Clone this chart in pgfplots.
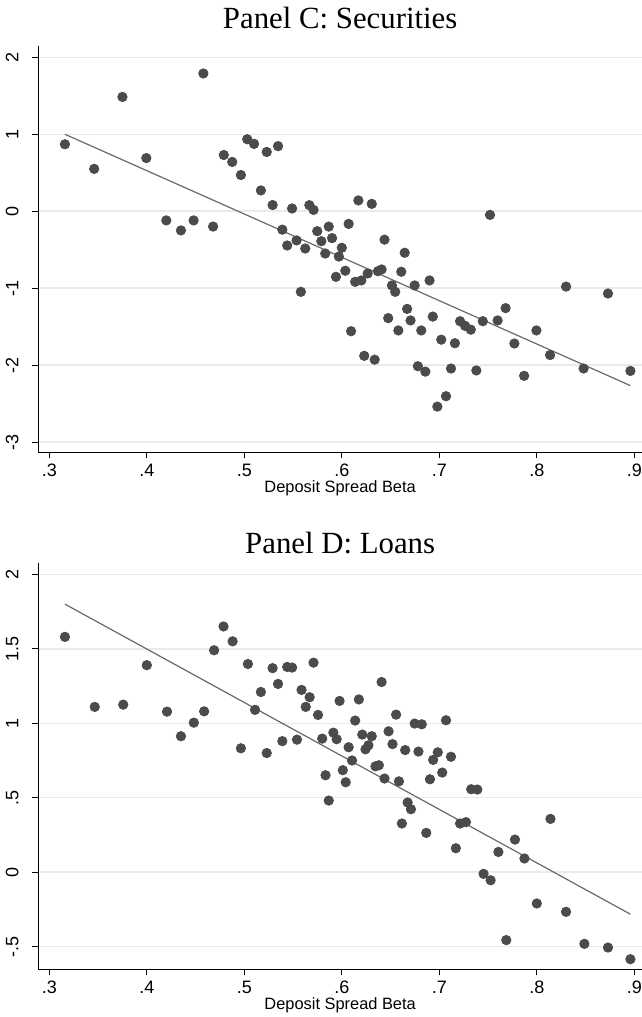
\documentclass[border=0pt]{standalone}
\usepackage{fontspec}
\setmainfont{Liberation Sans}
\newfontfamily\titlefont{Liberation Serif}
\usepackage{pgfplots}
\pgfplotsset{compat=1.18}
\definecolor{markgray}{RGB}{75,75,75}
\definecolor{linegray}{RGB}{105,105,105}
\definecolor{gridgray}{RGB}{234,234,234}
\pgfplotsset{
  stataax/.style={
    scale only axis,
    width=301.85pt,
    xmin=0.2887, xmax=0.9079,
    axis x line*=bottom, axis y line*=left,
    axis line style={-, black, line width=0.5pt},
    tick align=outside,
    major tick length=3pt,
    tick style={black, line width=0.5pt},
    xtick={0.3,0.4,0.5,0.6,0.7,0.8,0.9},
    xticklabels={.3,.4,.5,.6,.7,.8,.9},
    xticklabel style={font=\fontsize{9}{10}\selectfont, anchor=base, yshift=-9.3pt},
    yticklabel style={font=\fontsize{9}{10}\selectfont, xshift=-7pt, rotate=90, anchor=base},
    ymajorgrids,
    major grid style={gridgray, line width=0.75pt},
    xlabel={Deposit Spread Beta},
    xlabel style={font=\fontsize{8.2}{9}\selectfont, at={(0.5,0)}, anchor=base, yshift=-20.2pt},
    title style={font=\titlefont\fontsize{15.4}{18}\selectfont, at={(0.5,1)}, anchor=base},
  },
  dots/.style={only marks, mark=*, mark size=2.35pt, color=markgray, mark options={fill=markgray, draw=markgray}},
  fitline/.style={no marks, linegray, line width=0.6pt},
}
\begin{document}
\begin{tikzpicture}
\path[use as bounding box] (0,0) rectangle (321pt,-508.5pt);
% Panel C
\begin{axis}[stataax,
  at={(19.15pt,-23pt)}, anchor=north west,
  height=203.15pt,
  ymin=-3.134, ymax=2.147,
  ytick={-3,-2,-1,0,1,2},
  yticklabels={-3,-2,-1,0,1,2},
  title={Panel C: Securities},
  title style={yshift=2.85pt},
]
\addplot[dots] coordinates {
(0.316,0.87) (0.346,0.55) (0.375,1.485) (0.3995,0.69) (0.420,-0.12) (0.435,-0.25)
(0.448,-0.12) (0.458,1.79) (0.468,-0.20) (0.479,0.73) (0.4876,0.64) (0.4965,0.47)
(0.503,0.935) (0.510,0.875) (0.517,0.27) (0.523,0.77) (0.529,0.08) (0.5346,0.845)
(0.539,-0.24) (0.544,-0.446) (0.549,0.035) (0.5536,-0.38) (0.558,-1.048) (0.5625,-0.485)
(0.5667,0.078) (0.571,0.017) (0.5748,-0.26) (0.579,-0.39) (0.583,-0.55) (0.5866,-0.20)
(0.590,-0.35) (0.594,-0.853) (0.597,-0.59) (0.600,-0.476) (0.6036,-0.774) (0.607,-0.165)
(0.6095,-1.56) (0.6137,-0.918) (0.617,0.14) (0.620,-0.90) (0.623,-1.88) (0.6265,-0.81)
(0.6307,0.095) (0.6337,-1.93) (0.637,-0.78) (0.6408,-0.757) (0.6438,-0.37) (0.6476,-1.39)
(0.6514,-0.965) (0.6548,-1.048) (0.658,-1.55) (0.661,-0.787) (0.6645,-0.54) (0.667,-1.27)
(0.6705,-1.42) (0.6747,-0.965) (0.678,-2.015) (0.6815,-1.55) (0.6857,-2.085) (0.690,-0.90)
(0.6933,-1.37) (0.698,-2.54) (0.702,-1.67) (0.7069,-2.405) (0.712,-2.045) (0.716,-1.716)
(0.7213,-1.43) (0.7264,-1.49) (0.7323,-1.54) (0.738,-2.07) (0.7446,-1.43) (0.752,-0.048)
(0.7598,-1.42) (0.768,-1.26) (0.777,-1.72) (0.787,-2.14) (0.7996,-1.55) (0.8136,-1.87)
(0.830,-0.98) (0.848,-2.045) (0.873,-1.07) (0.896,-2.076)
};
\addplot[fitline] coordinates {(0.316,1.0) (0.896,-2.267)};
\end{axis}
% Panel D
\begin{axis}[stataax,
  at={(19.15pt,-281.65pt)}, anchor=north west,
  height=203pt,
  ymin=-0.652, ymax=2.074,
  ytick={-0.5,0,0.5,1,1.5,2},
  yticklabels={-.5,0,.5,1,1.5,2},
  title={Panel D: Loans},
  title style={yshift=-1pt},
]
\addplot[dots] coordinates {
(0.316,1.58) (0.3466,1.11) (0.3758,1.125) (0.400,1.39) (0.4207,1.078) (0.435,0.913)
(0.4482,1.004) (0.4588,1.08) (0.469,1.49) (0.4787,1.65) (0.488,1.55) (0.4965,0.832)
(0.5037,1.398) (0.511,1.09) (0.517,1.21) (0.523,0.80) (0.529,1.37) (0.5346,1.264)
(0.539,0.88) (0.544,1.378) (0.549,1.374) (0.554,0.89) (0.5587,1.224) (0.563,1.11)
(0.567,1.175) (0.571,1.407) (0.5756,1.056) (0.5799,0.897) (0.5833,0.651) (0.5866,0.481)
(0.5913,0.937) (0.5947,0.893) (0.5977,1.15) (0.601,0.685) (0.604,0.604) (0.607,0.839)
(0.6105,0.75) (0.6137,1.018) (0.6175,1.16) (0.621,0.924) (0.6243,0.825) (0.6273,0.852)
(0.6307,0.913) (0.6345,0.711) (0.638,0.718) (0.6408,1.277) (0.6438,0.629) (0.648,0.946)
(0.652,0.86) (0.6557,1.058) (0.6586,0.61) (0.6616,0.327) (0.665,0.82) (0.6675,0.468)
(0.6709,0.423) (0.6747,0.998) (0.6786,0.81) (0.682,0.993) (0.6866,0.264) (0.6904,0.624)
(0.6937,0.754) (0.6984,0.805) (0.703,0.669) (0.7069,1.02) (0.712,0.775) (0.717,0.161)
(0.7213,0.327) (0.7273,0.336) (0.7327,0.557) (0.739,0.555) (0.7454,-0.011) (0.7526,-0.054)
(0.7606,0.136) (0.7687,-0.456) (0.7776,0.219) (0.7873,0.092) (0.800,-0.21) (0.814,0.358)
(0.830,-0.266) (0.8488,-0.481) (0.873,-0.506) (0.896,-0.584)
};
\addplot[fitline] coordinates {(0.316,1.80) (0.896,-0.282)};
\end{axis}
\end{tikzpicture}
\end{document}
